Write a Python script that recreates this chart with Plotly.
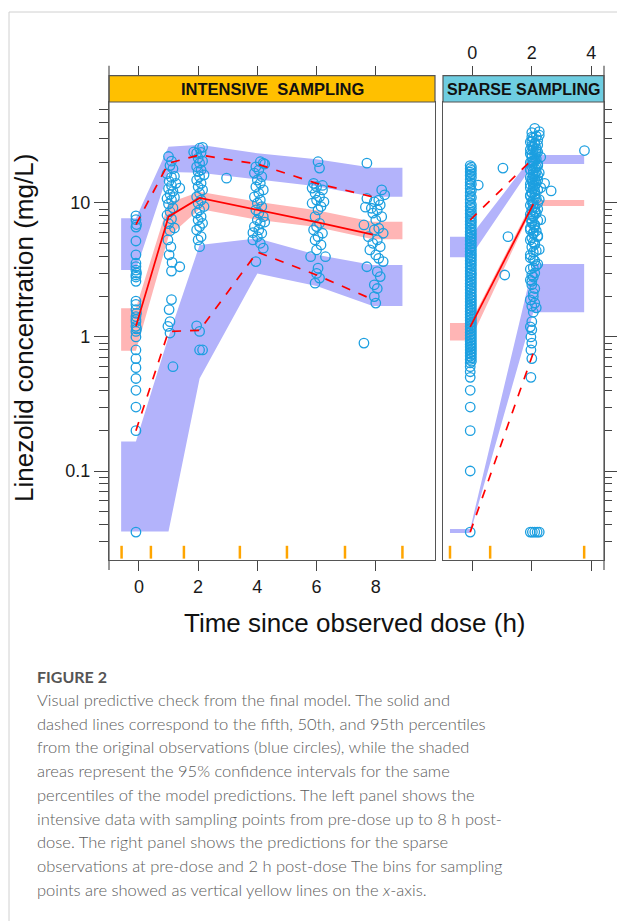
import plotly.graph_objects as go

W, H = 617, 921

# ---------------- data ----------------
# Intensive sampling panel: VPC percentile lines at the bin times
INT_T = [-0.1, 1.0, 2.05, 4.0, 6.0, 7.9]
INT_P50 = [1.2, 7.9, 10.9, 8.9, 7.2, 5.8]
INT_P95 = [6.9, 19.8, 22.8, 19.5, 14.0, 11.1]
INT_P05 = [0.2, 1.1, 1.12, 4.3, 2.9, 1.9]

# 95% CI bands of simulated percentiles (edges at first/last bin bounds)
INT_BAND_T = [-0.6, -0.1, 1.0, 2.05, 4.0, 6.0, 7.9, 8.9]
INT_HI_LO = [3.16, 3.16, 17.0, 16.8, 15.0, 13.3, 11.1, 11.1]
INT_HI_HI = [7.7, 7.7, 26.3, 27.2, 23.5, 21.2, 18.3, 18.3]
INT_MED_LO = [0.79, 0.79, 5.6, 9.0, 7.5, 6.6, 5.36, 5.36]
INT_MED_HI = [1.64, 1.64, 10.0, 12.1, 10.2, 8.8, 7.25, 7.25]
INT_LO_LO = [0.0353, 0.0353, 0.0353, 0.49, 2.98, 2.4, 1.70, 1.70]
INT_LO_HI = [0.166, 0.166, 1.0, 4.86, 5.45, 4.1, 3.44, 3.44]

INT_BINS = [-0.585, 0.405, 1.52, 3.41, 5.0, 6.96, 8.9]

# observations (time, concentration)
OBS_T0 = [(-0.1, 8.0), (-0.1, 7.5), (-0.08, 6.9), (-0.1, 6.6), (-0.1, 5.2), (-0.1, 4.1),
          (-0.1, 3.55), (-0.1, 3.35), (-0.1, 3.15), (-0.08, 3.0), (-0.1, 2.9), (-0.1, 2.8),
          (-0.1, 2.6), (-0.1, 1.85), (-0.1, 1.75), (-0.1, 1.6), (-0.08, 1.5), (-0.1, 1.42),
          (-0.1, 1.35), (-0.1, 1.3), (-0.1, 1.2), (-0.08, 1.15), (-0.1, 1.1), (-0.1, 1.0),
          (-0.1, 0.8), (-0.1, 0.69), (-0.1, 0.59), (-0.1, 0.49), (-0.1, 0.40), (-0.1, 0.30),
          (-0.1, 0.20), (-0.1, 0.035)]
OBS_T1 = [(1.0, 22.2), (1.1, 20.5), (1.05, 19.0), (1.15, 18.0), (0.95, 16.5), (1.1, 15.5),
          (1.2, 15.8), (1.02, 14.5), (1.25, 14.0), (1.1, 13.5), (1.38, 12.9), (1.0, 12.8),
          (1.15, 12.2), (1.05, 11.6), (0.95, 10.8), (1.1, 10.5), (1.2, 11.0), (1.0, 9.8),
          (1.15, 9.2), (1.05, 8.6), (0.95, 8.1), (1.1, 7.6), (1.0, 7.0), (1.2, 6.5),
          (1.05, 6.2), (0.98, 5.3), (1.08, 4.7), (1.02, 4.1), (1.12, 3.6), (1.38, 3.34),
          (1.1, 3.1), (1.1, 1.9), (1.02, 1.6), (1.05, 1.3), (0.98, 1.2), (1.05, 1.07),
          (1.15, 0.6)]
OBS_T2 = [(1.85, 24.0), (2.05, 25.6), (2.15, 26.0), (1.95, 23.5), (2.1, 23.8), (2.0, 21.6),
          (2.15, 20.5), (2.05, 19.8), (1.95, 18.6), (2.1, 17.6), (2.0, 17.1), (2.2, 16.2),
          (2.05, 15.7), (1.95, 14.8), (2.1, 14.0), (2.0, 13.2), (2.15, 12.5), (2.05, 11.8),
          (1.95, 11.1), (2.1, 10.5), (2.0, 9.95), (2.2, 9.4), (2.05, 8.87), (1.95, 8.4),
          (2.1, 7.9), (2.0, 7.46), (2.15, 7.05), (2.05, 6.66), (1.95, 6.29), (2.1, 5.6),
          (2.0, 5.3), (2.05, 4.72), (2.96, 15.3), (1.95, 1.21), (2.05, 1.1), (2.05, 0.8),
          (2.15, 0.8)]
OBS_T4 = [(4.1, 20.3), (4.25, 19.5), (4.2, 19.8), (3.95, 18.6), (4.05, 17.6), (3.9, 16.7),
          (4.15, 15.7), (4.0, 14.8), (4.1, 14.0), (3.95, 13.2), (4.2, 12.5), (4.05, 11.8),
          (3.9, 11.1), (4.1, 10.5), (4.0, 9.95), (4.15, 9.4), (3.95, 8.87), (4.05, 8.4),
          (4.2, 7.9), (4.0, 7.46), (4.25, 7.2), (4.1, 7.05), (3.9, 6.66), (4.05, 6.29),
          (3.85, 6.0), (4.15, 5.94), (4.0, 5.6), (3.85, 5.3), (4.1, 5.0), (4.2, 4.6),
          (3.95, 3.65)]
OBS_T6 = [(6.05, 20.3), (6.1, 18.2), (5.9, 14.0), (6.2, 13.5), (6.0, 13.2), (5.85, 12.9),
          (6.2, 12.5), (5.95, 11.8), (6.1, 11.1), (6.0, 10.5), (6.25, 10.2), (5.85, 9.95),
          (6.15, 9.4), (6.05, 8.87), (5.95, 7.9), (6.1, 7.05), (6.0, 6.66), (5.9, 6.29),
          (6.2, 5.94), (6.05, 5.6), (5.95, 5.3), (6.15, 4.86), (6.0, 4.46), (5.8, 3.97),
          (6.3, 3.97), (6.05, 3.26), (6.0, 2.98), (6.1, 2.75), (5.95, 2.52)]
OBS_T8 = [(7.7, 19.8), (8.2, 12.5), (8.3, 11.5), (7.7, 10.8), (8.1, 10.5), (7.95, 10.2),
          (8.15, 9.66), (7.65, 9.3), (7.85, 9.13), (8.05, 8.87), (7.9, 8.4), (8.2, 7.9),
          (8.0, 7.46), (7.6, 6.85), (8.1, 6.47), (7.95, 6.29), (8.25, 5.94), (7.75, 5.6),
          (8.05, 5.3), (7.9, 5.0), (8.15, 4.72), (7.8, 4.46), (8.0, 4.09), (8.1, 3.86),
          (8.25, 3.65), (7.7, 3.34), (8.05, 3.07), (8.15, 2.82), (7.95, 2.45), (8.05, 2.3),
          (7.95, 2.0), (8.0, 1.79), (7.6, 0.90)]

# Sparse sampling panel
SP_T = [-0.07, 2.05]
SP_P50 = [1.19, 9.8]
SP_P95 = [7.46, 21.5]
SP_P05 = [0.035, 0.76]
SP_BAND_T = [-0.75, -0.07, 2.05, 3.76]
SP_HI_LO = [3.93, 3.93, 19.5, 19.5]
SP_HI_HI = [5.6, 5.6, 22.8, 22.8]
SP_MED_LO = [0.94, 0.94, 9.5, 9.5]
SP_MED_HI = [1.27, 1.27, 10.5, 10.5]
SP_LO_LO = [0.0345, 0.0345, 1.53, 1.53]
SP_LO_HI = [0.037, 0.037, 3.5, 3.5]
SP_BINS = [-0.75, 0.6, 3.76]

SP_OBS0_T = -0.07
SP_OBS0 = [19.0, 18.0, 17.0, 16.0, 15.0, 14.2, 13.5, 12.8, 12.0, 11.3, 10.6, 10.0, 9.4,
           8.8, 8.3, 7.8, 7.3, 6.9, 6.5, 6.1, 5.8, 5.5, 5.2, 4.9, 4.6, 4.35, 4.1, 3.9, 3.7,
           3.5, 3.3, 3.1, 2.95, 2.8, 2.65, 2.5, 2.38, 2.25, 2.13, 2.02, 1.92, 1.82, 1.72,
           1.63, 1.55, 1.47, 1.4, 1.33, 1.26, 1.2, 1.14, 1.08, 1.03, 0.98, 0.93, 0.88, 0.84,
           0.8, 0.76, 0.72, 0.68, 0.64, 0.6, 0.55, 0.5, 0.4, 0.3, 0.2, 0.1, 0.035]
SP_OBS0B_T = -0.03
SP_OBS0B = [18.5, 17.5, 16.5, 15.5, 13.8, 12.4, 11.0, 9.7, 9.1, 8.5, 8.0, 7.5, 7.1, 6.7,
            6.3, 5.95, 5.65, 5.35, 5.05, 4.75, 4.48, 4.22, 4.0, 3.8, 3.6, 3.4, 3.2, 3.02,
            2.88, 2.72, 2.57, 2.44, 2.31, 2.19, 2.07, 1.97, 1.87, 1.77, 1.68, 1.59, 1.51,
            1.43, 1.36, 1.29, 1.23, 1.17, 1.11, 1.05, 1.0, 0.95, 0.9, 0.86, 0.82, 0.78,
            0.74, 0.7, 0.66]
SP_OBS2 = [(2.1, 36.0), (2.25, 34.0), (2.0, 33.5), (2.15, 31.5), (2.05, 30.5), (2.2, 29.5),
           (1.95, 28.5), (2.1, 27.5), (2.0, 26.5), (2.15, 25.5), (2.05, 24.8), (2.2, 24.0),
           (1.95, 23.3), (2.1, 22.6), (2.0, 22.0), (2.15, 21.3), (2.05, 20.6), (1.95, 20.0),
           (2.2, 19.4), (2.0, 18.8), (2.1, 18.2), (1.95, 17.6), (2.15, 17.0), (2.05, 16.5),
           (2.2, 16.0), (1.95, 15.5), (2.1, 15.0), (2.0, 14.5), (2.15, 14.0), (2.05, 13.5),
           (1.95, 13.0), (2.2, 12.5), (2.0, 12.0), (2.1, 11.6), (1.95, 11.2), (2.15, 10.8),
           (2.05, 10.4), (2.2, 10.0), (1.95, 9.6), (2.1, 9.2), (2.0, 8.8), (2.15, 8.4),
           (2.05, 8.0), (1.95, 7.7), (2.2, 7.4), (2.0, 7.1), (2.1, 6.8), (1.95, 6.5),
           (2.15, 6.2), (2.05, 5.9), (2.2, 5.6), (1.95, 5.3), (2.1, 5.0), (2.0, 4.7),
           (2.15, 4.4), (1.95, 4.1), (2.05, 3.8), (2.2, 3.5), (1.95, 3.2), (2.1, 3.0),
           (2.05, 2.8), (1.95, 2.66), (2.0, 2.45), (2.05, 2.13), (1.95, 1.89), (2.1, 1.79),
           (2.15, 1.65), (2.05, 1.53), (2.0, 1.30), (1.95, 1.19), (2.0, 1.13), (1.97, 1.0),
           (2.0, 0.90), (1.97, 0.80), (2.0, 0.69), (1.97, 0.50), (1.95, 0.035), (2.02, 0.035),
           (2.1, 0.035), (2.18, 0.035), (2.25, 0.035)]
SP_OBS2B = [(2.25, 32.0), (2.0, 29.0), (2.2, 27.0), (1.95, 25.0), (2.15, 23.5), (2.3, 22.0),
            (2.0, 20.3), (2.2, 19.0), (1.95, 17.8), (2.25, 16.8), (2.05, 15.8), (2.2, 14.8),
            (1.95, 13.8), (2.3, 13.0), (2.1, 12.2), (1.95, 11.4), (2.25, 10.6), (2.05, 9.8),
            (2.2, 9.0), (1.95, 8.2), (2.3, 7.5), (2.1, 6.9), (1.95, 6.3), (2.2, 5.7),
            (2.05, 5.1), (2.25, 4.5), (1.95, 3.9), (2.15, 3.4), (2.0, 2.9)]
SP_OBS2C = [(2.0, 31.0), (2.1, 28.0), (2.05, 26.0), (2.15, 24.4), (2.0, 23.0), (2.1, 21.0),
            (2.05, 19.7), (2.15, 18.5), (2.05, 17.3), (2.1, 16.2), (2.0, 15.2), (2.05, 14.3),
            (2.1, 13.3), (2.05, 12.7), (2.0, 11.8), (2.1, 11.0), (2.0, 10.2), (2.05, 9.4),
            (2.1, 8.6), (2.05, 7.9), (2.0, 7.3), (2.1, 6.6), (2.05, 6.0), (2.0, 5.5),
            (2.1, 4.9), (2.05, 4.3), (2.1, 3.7), (2.05, 3.3), (2.0, 2.6), (2.1, 2.3),
            (2.05, 2.0), (2.0, 1.7)]
SP_OBS_OTHER = [(0.2, 13.6), (1.03, 18.2), (1.2, 5.6), (1.09, 2.9), (2.43, 14.0),
                (2.65, 12.3), (3.77, 24.6)]

X_TICKS_INT = [0, 2, 4, 6, 8]
X_TICKS_SP = [0, 2, 4]
Y_TICKS = [0.1, 1, 10]
Y_TICK_TEXT = ["0.1", "1", "10"]
Y_MINOR = [0.03, 0.04, 0.05, 0.06, 0.07, 0.08, 0.09, 0.2, 0.3, 0.4, 0.5, 0.6, 0.7, 0.8,
           0.9, 2, 3, 4, 5, 6, 7, 8, 9, 20, 30, 40, 50]

# ---------------- styling ----------------
BLUE_BAND = "#b3b3fb"
PINK_BAND = "#ffb5b5"
CIRCLE = "#1c9fe0"
RED = "#ff0000"
FRAME = "#555555"
FONT = "Liberation Sans, Arial, sans-serif"


def px(x):
    return x / W


def py(y):
    return 1 - y / H


L0, L1, R0, R1 = 109, 435, 443, 604
TOP, BOT, STRIP_TOP = 102, 560, 75.7
YR = [-1.664, 1.753]

fig = go.Figure()


def band(xs, lo, hi, color, xa, ya):
    fig.add_trace(go.Scatter(x=list(xs) + list(xs)[::-1], y=list(hi) + list(lo)[::-1],
                             fill="toself", fillcolor=color, mode="lines",
                             line=dict(width=0, color=color), xaxis=xa, yaxis=ya,
                             hoverinfo="skip", showlegend=False))


def pts(pairs, xa, ya):
    fig.add_trace(go.Scatter(x=[p[0] for p in pairs], y=[p[1] for p in pairs], mode="markers",
                             marker=dict(symbol="circle-open", size=9.5, color=CIRCLE,
                                         line=dict(width=1.3, color=CIRCLE)),
                             xaxis=xa, yaxis=ya, showlegend=False))


def line(xs, ys, dash, xa, ya):
    fig.add_trace(go.Scatter(x=xs, y=ys, mode="lines",
                             line=dict(color=RED, width=1.7, dash=dash),
                             xaxis=xa, yaxis=ya, showlegend=False))


# left panel
band(INT_BAND_T, INT_HI_LO, INT_HI_HI, BLUE_BAND, "x", "y")
band(INT_BAND_T, INT_LO_LO, INT_LO_HI, BLUE_BAND, "x", "y")
band(INT_BAND_T, INT_MED_LO, INT_MED_HI, PINK_BAND, "x", "y")
for grp in (OBS_T0, OBS_T1, OBS_T2, OBS_T4, OBS_T6, OBS_T8):
    pts(grp, "x", "y")
line(INT_T, INT_P95, "dash", "x", "y")
line(INT_T, INT_P05, "dash", "x", "y")
line(INT_T, INT_P50, "solid", "x", "y")

# right panel
band(SP_BAND_T, SP_HI_LO, SP_HI_HI, BLUE_BAND, "x2", "y2")
band(SP_BAND_T, SP_LO_LO, SP_LO_HI, BLUE_BAND, "x2", "y2")
band(SP_BAND_T, SP_MED_LO, SP_MED_HI, PINK_BAND, "x2", "y2")
pts([(SP_OBS0_T, v) for v in SP_OBS0], "x2", "y2")
pts([(SP_OBS0B_T, v) for v in SP_OBS0B], "x2", "y2")
pts(SP_OBS2, "x2", "y2")
pts(SP_OBS2B, "x2", "y2")
pts(SP_OBS2C, "x2", "y2")
pts(SP_OBS_OTHER, "x2", "y2")
line(SP_T, SP_P95, "dash", "x2", "y2")
line(SP_T, SP_P05, "dash", "x2", "y2")
line(SP_T, SP_P50, "solid", "x2", "y2")

# helper traces so the top tick axes are drawn
fig.add_trace(go.Scatter(x=[None], y=[None], xaxis="x3", yaxis="y", showlegend=False))
fig.add_trace(go.Scatter(x=[None], y=[None], xaxis="x4", yaxis="y2", showlegend=False))

tickfont = dict(family=FONT, size=18, color="#1a1a1a")
common_x = dict(showgrid=False, zeroline=False, ticks="outside", ticklen=10, tickwidth=1,
                tickcolor="#444", tickfont=tickfont)
common_y = dict(type="log", range=YR, showgrid=False, zeroline=False, ticks="outside",
                tickwidth=1, tickcolor="#444", tickvals=Y_TICKS, ticktext=Y_TICK_TEXT,
                tickfont=tickfont, showline=True, linecolor=FRAME, linewidth=1.2, mirror=True,
                domain=[py(BOT), py(TOP)])

fig.update_layout(
    width=W, height=H, margin=dict(l=0, r=0, t=0, b=0),
    paper_bgcolor="white", plot_bgcolor="white", showlegend=False,
    xaxis=dict(domain=[px(L0), px(L1)], range=[-1.01, 10.0], anchor="y",
               tickvals=X_TICKS_INT, showline=True, linecolor=FRAME, linewidth=1.2,
               mirror=True, **common_x),
    yaxis=dict(anchor="x", ticklen=14,
               minor=dict(tickvals=Y_MINOR, ticks="outside", ticklen=9, tickcolor="#444"),
               **common_y),
    xaxis2=dict(domain=[px(R0), px(R1)], range=[-0.985, 4.427], anchor="y2",
                tickvals=X_TICKS_SP, showticklabels=False, showline=True, linecolor=FRAME,
                linewidth=1.2, mirror=True, **common_x),
    yaxis2=dict(anchor="x2", side="right", ticklen=12, showticklabels=False,
                minor=dict(tickvals=Y_MINOR, ticks="outside", ticklen=7, tickcolor="#444"),
                **common_y),
    xaxis3=dict(overlaying="x", side="top", anchor="free", position=py(STRIP_TOP),
                range=[-1.01, 10.0], tickvals=X_TICKS_INT, showticklabels=False,
                showline=False, **common_x),
    xaxis4=dict(overlaying="x2", side="top", anchor="free", position=py(STRIP_TOP),
                range=[-0.985, 4.427], tickvals=X_TICKS_SP, showticklabels=True,
                showline=False, **common_x),
)

shapes = []
# strips
shapes.append(dict(type="rect", xref="paper", yref="paper", x0=px(L0), x1=px(L1),
                   y0=py(TOP), y1=py(STRIP_TOP), fillcolor="#ffc000",
                   line=dict(color=FRAME, width=1.2), layer="above"))
shapes.append(dict(type="rect", xref="paper", yref="paper", x0=px(R0), x1=px(R1),
                   y0=py(TOP), y1=py(STRIP_TOP), fillcolor="#6ecde1",
                   line=dict(color=FRAME, width=1.2), layer="above"))
# outer edge extensions
for xe in (L0, R1):
    shapes.append(dict(type="line", xref="paper", yref="paper", x0=px(xe), x1=px(xe),
                       y0=py(570), y1=py(65.7), line=dict(color=FRAME, width=1.2)))
# bin markers
for b in INT_BINS:
    shapes.append(dict(type="line", xref="x", yref="y domain", x0=b, x1=b, y0=0.003,
                       y1=0.031, line=dict(color="#ffa500", width=2.5)))
for b in SP_BINS:
    shapes.append(dict(type="line", xref="x2", yref="y2 domain", x0=b, x1=b, y0=0.003,
                       y1=0.031, line=dict(color="#ffa500", width=2.5)))
# page border
shapes.append(dict(type="line", xref="paper", yref="paper", x0=px(9), x1=px(9), y0=0,
                   y1=py(12), line=dict(color="#d0d0d0", width=1)))
shapes.append(dict(type="line", xref="paper", yref="paper", x0=px(9), x1=1, y0=py(12),
                   y1=py(12), line=dict(color="#d0d0d0", width=1)))
fig.update_layout(shapes=shapes)


def note(text, x, y, size, color, family=FONT, xanchor="center", angle=0, weight=None):
    f = dict(family=family, size=size, color=color)
    if weight is not None:
        f["weight"] = weight
    return dict(text=text, x=px(x), y=py(y), xref="paper", yref="paper", showarrow=False,
                xanchor=xanchor, yanchor="middle", textangle=angle, font=f)


ann = [
    note("<b>INTENSIVE\u00a0 SAMPLING</b>", (L0 + L1) / 2, 89, 16.5, "#111"),
    note("<b>SPARSE SAMPLING</b>", (R0 + R1) / 2, 89, 16, "#111"),
    note("Linezolid concentration (mg/L)", 24, 328, 26, "#111", angle=-90),
    note("Time since observed dose (h)", 355, 623, 26, "#111"),
]

CAP_FONT = "Lato, Open Sans, sans-serif"
ann.append(note("<b>FIGURE 2</b>", 35, 676, 16, "#555", family=CAP_FONT, xanchor="left"))
CAPTION = [
    "Visual predictive check from the final model. The solid and",
    "dashed lines correspond to the fifth, 50th, and 95th percentiles",
    "from the original observations (blue circles), while the shaded",
    "areas represent the 95% confidence intervals for the same",
    "percentiles of the model predictions. The left panel shows the",
    "intensive data with sampling points from pre-dose up to 8 h post-",
    "dose. The right panel shows the predictions for the sparse",
    "observations at pre-dose and 2 h post-dose The bins for sampling",
    "points are showed as vertical yellow lines on the <i>x</i>-axis.",
]
for i, t in enumerate(CAPTION):
    ann.append(note(t, 35, 700 + 23.7 * i, 16.5, "#5c5c5c", family=CAP_FONT,
                    xanchor="left", weight=300))
fig.update_layout(annotations=ann)

fig.write_html("out.html", config={"displayModeBar": False},
               post_script="document.body.style.margin='0';"
                           "document.body.style.overflow='hidden';")
